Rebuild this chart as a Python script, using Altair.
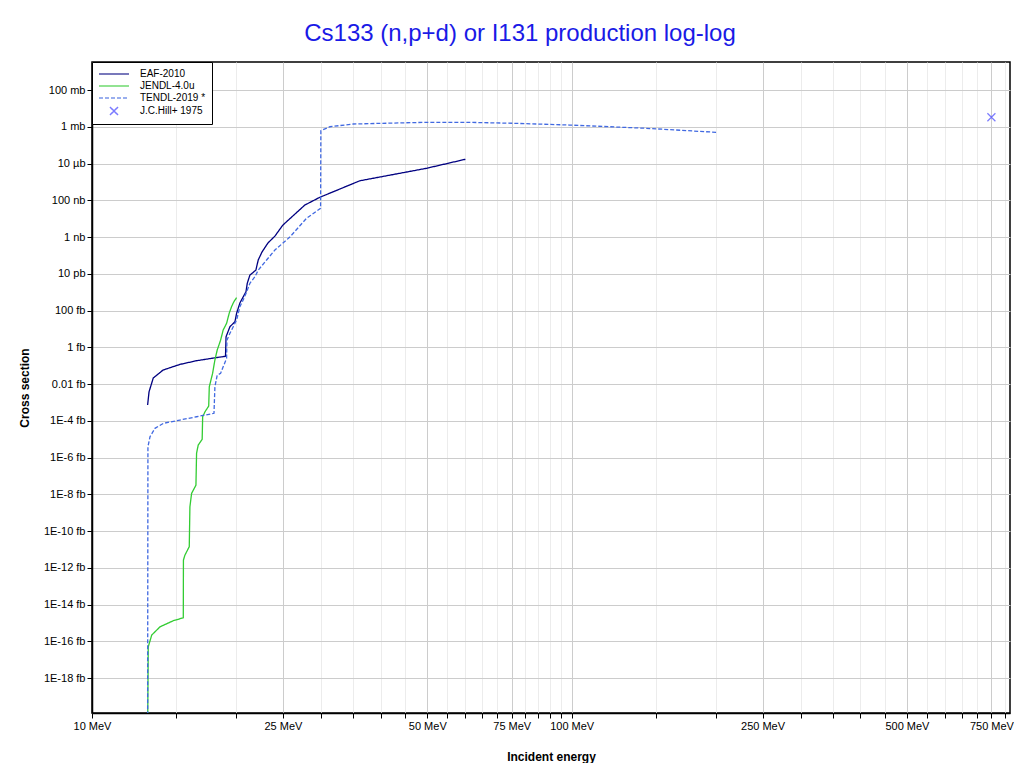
import json
import math
import altair as alt
import pandas as pd

# ---------------- data (energy in MeV, cross section in barns) ----------------
eaf_energy = [13.06, 13.15, 13.42, 14.06, 15.25, 16.52, 17.87, 18.98, 19.03, 19.39,
              19.86, 20.02, 20.34, 20.94, 21.07, 21.34, 21.96, 22.21, 22.61, 23.26,
              24.06, 25.0, 25.76, 27.78, 29.85, 36.17, 49.83, 60.04]
eaf_xs = [7.24e-19, 3.80e-18, 2.14e-17, 5.75e-17, 1.17e-16, 1.86e-16, 2.57e-16, 3.24e-16,
          3.72e-15, 1.32e-14, 2.45e-14, 7.08e-14, 2.57e-13, 1.05e-12, 3.02e-12, 8.51e-12,
          1.58e-11, 5.62e-11, 1.51e-10, 4.68e-10, 1.12e-9, 4.47e-9, 9.12e-9, 5.50e-8,
          1.45e-7, 1.15e-6, 5.50e-6, 1.70e-5]

jendl_energy = [13.06, 13.10, 13.32, 13.86, 14.77, 15.50, 15.51, 15.62, 15.95, 16.00,
                16.13, 16.47, 16.52, 16.65, 16.97, 17.01, 17.20, 17.51, 17.56, 17.84,
                18.04, 18.24, 18.54, 18.77, 19.08, 19.32, 19.54, 19.76, 20.02]
jendl_xs = [1e-36, 5.01e-32, 2.19e-31, 6.17e-31, 1.32e-30, 1.91e-30, 2.63e-27, 4.90e-27,
            1.41e-26, 2.09e-24, 1.12e-23, 3.16e-23, 1.70e-21, 4.79e-21, 9.77e-21, 1.66e-19,
            3.09e-19, 6.31e-19, 7.08e-18, 3.80e-17, 2.04e-16, 7.08e-16, 2.45e-15, 8.71e-15,
            2.00e-14, 7.08e-14, 1.62e-13, 3.02e-13, 5.01e-13]

tendl_energy = [13.06, 13.08, 13.21, 13.53, 14.08, 15.25, 16.52, 17.96, 18.04, 18.24,
                18.54, 18.77, 19.08, 19.11, 19.39, 19.70, 20.02, 20.34, 20.66, 21.01,
                21.34, 21.86, 22.21, 23.12, 24.06, 25.85, 28.01, 29.96, 30.0, 31.33,
                35.03, 49.83, 60.2, 75.46, 99.0, 143.1, 200.0]
tendl_xs = [1e-36, 3.89e-21, 1.35e-20, 3.89e-20, 7.24e-20, 1.10e-19, 1.66e-19, 2.57e-19,
            7.08e-18, 3.09e-17, 3.80e-17, 8.71e-17, 2.51e-16, 2.45e-15, 5.75e-15, 1.32e-14,
            3.02e-14, 1.62e-13, 3.72e-13, 1.05e-12, 3.02e-12, 6.92e-12, 1.58e-11, 5.62e-11,
            1.95e-10, 1.0e-9, 1.05e-8, 3.63e-8, 6.10e-4, 1.0e-3, 1.41e-3, 1.75e-3, 1.75e-3,
            1.55e-3, 1.24e-3, 8.24e-4, 4.99e-4]

hill_energy = [750.0]
hill_xs = [3.3e-3]

series_names = ["EAF-2010", "JENDL-4.0u", "TENDL-2019 *", "J.C.Hill+ 1975"]
series_colors = ["#000080", "#33cc33", "#4169e1", "#4444ff"]
series_dash = [[1, 0], [1, 0], [4, 2], [1, 0]]
series_shape = ["M-3,0H3", "M-3,0H3", "M-3,0H3", "M-0.8,-0.8L0.8,0.8M-0.8,0.8L0.8,-0.8"]

x_major = [10, 25, 50, 75, 100, 250, 500, 750]
x_minor = [15, 20, 30, 35, 40, 45, 55, 60, 65, 70, 80, 85, 90, 95,
           150, 200, 300, 350, 400, 450, 550, 600, 650, 700, 800]
y_values = [1e-1, 1e-3, 1e-5, 1e-7, 1e-9, 1e-11, 1e-13, 1e-15, 1e-17, 1e-19,
            1e-21, 1e-23, 1e-25, 1e-27, 1e-29, 1e-31, 1e-33]
y_labels = ["100 mb", "1 mb", "10 µb", "100 nb", "1 nb", "10 pb", "100 fb", "1 fb",
            "0.01 fb", "1E-4 fb", "1E-6 fb", "1E-8 fb", "1E-10 fb", "1E-12 fb",
            "1E-14 fb", "1E-16 fb", "1E-18 fb"]

# ---------------- tables ----------------
rows = []
for name, es, xs in [(series_names[0], eaf_energy, eaf_xs),
                     (series_names[1], jendl_energy, jendl_xs),
                     (series_names[2], tendl_energy, tendl_xs)]:
    for i, (e, s) in enumerate(zip(es, xs)):
        rows.append({"E": e, "xs": s, "lib": name, "idx": i})
lines_df = pd.DataFrame(rows)
hill_df = pd.DataFrame({"E": hill_energy, "xs": hill_xs, "lib": series_names[3]})

label_arr = [""] * 36
for v, lab in zip(y_values, y_labels):
    label_arr[round(-math.log10(v))] = lab
y_label_expr = json.dumps(label_arr, ensure_ascii=False) + "[round(-log(datum.value)/LN10)]"

FONT = "Liberation Sans"
x_scale = alt.Scale(type="log", domain=[10, 820], nice=False)
y_scale = alt.Scale(type="log", domain=[1.26e-35, 3.34], nice=False)

color = alt.Color("lib:N", scale=alt.Scale(domain=series_names, range=series_colors),
                  legend=alt.Legend(title=None))
dash = alt.StrokeDash("lib:N", scale=alt.Scale(domain=series_names, range=series_dash),
                      legend=alt.Legend(title=None))
shape = alt.Shape("lib:N", scale=alt.Scale(domain=series_names, range=series_shape),
                  legend=alt.Legend(title=None))

y_axis = alt.Axis(values=y_values, labelExpr=y_label_expr, title="Cross section",
                  grid=True, gridColor="#cccccc", titlePadding=12, labelFlush=False)

x_main_axis = alt.Axis(values=x_major, labelExpr="datum.value + ' MeV'",
                       title="Incident energy", grid=True, gridColor="#cccccc",
                       orient="bottom", titlePadding=20, labelFlush=False)
x_minor_axis = alt.Axis(values=x_minor, labels=False, title=None, grid=True,
                        gridColor="#ececec", orient="bottom", domain=False,
                        tickColor="black", tickSize=5)

minor = alt.Chart(hill_df).mark_point(opacity=0).encode(
    x=alt.X("E:Q", scale=x_scale, axis=x_minor_axis),
    y=alt.Y("xs:Q", scale=y_scale, axis=y_axis),
)

lines = alt.Chart(lines_df).mark_line(clip=True, strokeWidth=1.3).encode(
    x=alt.X("E:Q", scale=x_scale, axis=x_main_axis),
    y=alt.Y("xs:Q", scale=y_scale, axis=y_axis),
    color=color,
    strokeDash=dash,
    order="idx:Q",
)

points = alt.Chart(hill_df).mark_point(filled=False, size=100, strokeWidth=1.2).encode(
    x=alt.X("E:Q", scale=x_scale, axis=None),
    y=alt.Y("xs:Q", scale=y_scale, axis=y_axis),
    color=color,
    shape=shape,
)

chart = alt.layer(minor, lines, points).resolve_axis(x="independent").properties(
    width=918,
    height=651,
    autosize=alt.AutoSizeParams(type="none"),
    padding={"left": 84, "top": 54, "right": 4, "bottom": 50},
    title=alt.Title("Cs133 (n,p+d) or I131 production log-log", fontSize=24,
                    font=FONT, fontWeight="normal", color="#1a1ae6",
                    anchor="middle", dx=-31, dy=6, offset=3, baseline="alphabetic"),
).configure_view(stroke="black", strokeWidth=1.5).configure_axis(
    labelFont=FONT, labelFontSize=11, labelColor="black",
    titleFont=FONT, titleFontSize=12, titleFontWeight="bold", titleColor="black",
    domainColor="black", domainWidth=1.5, tickColor="black", tickSize=5,
    gridWidth=1,
).configure_legend(
    orient="top-left", offset=0, padding=6, strokeColor="black", fillColor="white",
    labelFont=FONT, labelFontSize=10, labelColor="black", symbolSize=100,
    symbolStrokeWidth=1.5, symbolOffset=10, labelOffset=20, rowPadding=1,
    cornerRadius=0,
)

chart.save("out.html", embed_options={"renderer": "svg", "actions": False})
